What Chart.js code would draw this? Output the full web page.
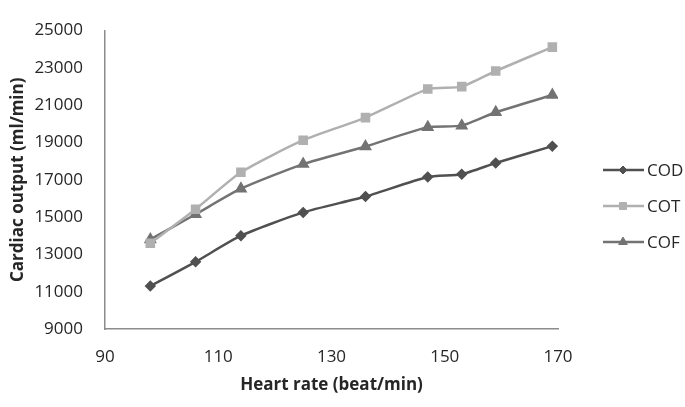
<!DOCTYPE html>
<html>
<head>
<meta charset="utf-8">
<script src="https://cdn.jsdelivr.net/npm/chart.js@4"></script>
<style>
  html, body { margin: 0; padding: 0; background: #fff; }
  #wrap { width: 685px; height: 407px; position: relative; }
</style>
</head>
<body>
<div id="wrap"><canvas id="cardiacChart"></canvas></div>
<script>
// heart rate (beat/min) at each measurement
const heartRate = [98, 106, 114, 125, 136, 147, 153, 159, 169];
// cardiac output (ml/min)
const cod = [11300, 12600, 14000, 15250, 16100, 17150, 17300, 17900, 18800];
const cot = [13600, 15420, 17400, 19120, 20330, 21860, 21990, 22830, 24110];
const cof = [13800, 15150, 16520, 17840, 18780, 19820, 19900, 20620, 21540];
const seriesNames = ['COD', 'COT', 'COF'];

const FONT = '"Open Sans", "Noto Sans", sans-serif';
const axisGrey = '#8c8c8c';
const textColor = '#262626';

function toPoints(values) {
  return values.map((v, i) => ({ x: heartRate[i], y: v }));
}

// legend drawn at the right, line with marker through it
const sideLegend = {
  id: 'sideLegend',
  afterDraw(chart) {
    const ctx = chart.ctx;
    const rows = [170, 206, 242];
    chart.data.datasets.forEach((ds, i) => {
      const y = rows[i];
      ctx.save();
      ctx.strokeStyle = ds.borderColor;
      ctx.fillStyle = ds.borderColor;
      ctx.lineWidth = ds.borderWidth;
      ctx.beginPath();
      ctx.moveTo(603, y);
      ctx.lineTo(644, y);
      ctx.stroke();
      ctx.lineWidth = 1;
      Chart.helpers.drawPoint(ctx, {
        pointStyle: ds.pointStyle,
        radius: ds.pointRadius,
        borderWidth: 1
      }, 623, y);
      ctx.fillStyle = textColor;
      ctx.font = '17px ' + FONT;
      ctx.textBaseline = 'middle';
      ctx.fillText(ds.label, 647, y + 1);
      ctx.restore();
    });
  }
};

function makeSet(label, values, color, style, radius) {
  return {
    label: label,
    data: toPoints(values),
    borderColor: color,
    backgroundColor: color,
    pointBackgroundColor: color,
    pointBorderColor: color,
    borderWidth: 2.5,
    pointStyle: style,
    pointRadius: radius,
    tension: 0.2
  };
}

const ctx = document.getElementById('cardiacChart').getContext('2d');
new Chart(ctx, {
  type: 'line',
  data: {
    datasets: [
      makeSet(seriesNames[0], cod, '#505050', 'rectRot', 4),
      makeSet(seriesNames[1], cot, '#b0b0b0', 'rect', 5),
      makeSet(seriesNames[2], cof, '#737373', 'triangle', 5)
    ]
  },
  options: {
    responsive: true,
    maintainAspectRatio: false,
    animation: false,
    layout: { padding: { top: 10, right: 127, left: 0, bottom: 0 } },
    plugins: {
      legend: { display: false },
      tooltip: { enabled: false }
    },
    scales: {
      x: {
        type: 'linear',
        min: 90,
        max: 170,
        ticks: {
          stepSize: 20,
          padding: 18,
          color: textColor,
          font: { family: FONT, size: 17 },
          callback: v => String(v)
        },
        grid: { display: false, drawTicks: false },
        border: { color: axisGrey, width: 1.5 },
        title: {
          display: true,
          text: 'Heart rate (beat/min)',
          color: textColor,
          font: { family: FONT, size: 17, weight: 'bold', lineHeight: 1.2 },
          padding: { top: 0, bottom: 12 }
        },
        afterFit(scale) { scale.height = 78; }
      },
      y: {
        min: 9000,
        max: 25000,
        ticks: {
          stepSize: 2000,
          padding: 22,
          color: textColor,
          font: { family: FONT, size: 17, lineHeight: 1 },
          callback: v => String(v)
        },
        grid: { display: false, drawTicks: false },
        border: { color: axisGrey, width: 1.5 },
        title: {
          display: true,
          text: 'Cardiac output (ml/min)',
          color: textColor,
          font: { family: FONT, size: 17, weight: 'bold', lineHeight: 1.2 },
          padding: { top: 8, bottom: 0 }
        },
        afterFit(scale) { scale.width = 105; }
      }
    }
  },
  plugins: [sideLegend]
});
</script>
</body>
</html>
